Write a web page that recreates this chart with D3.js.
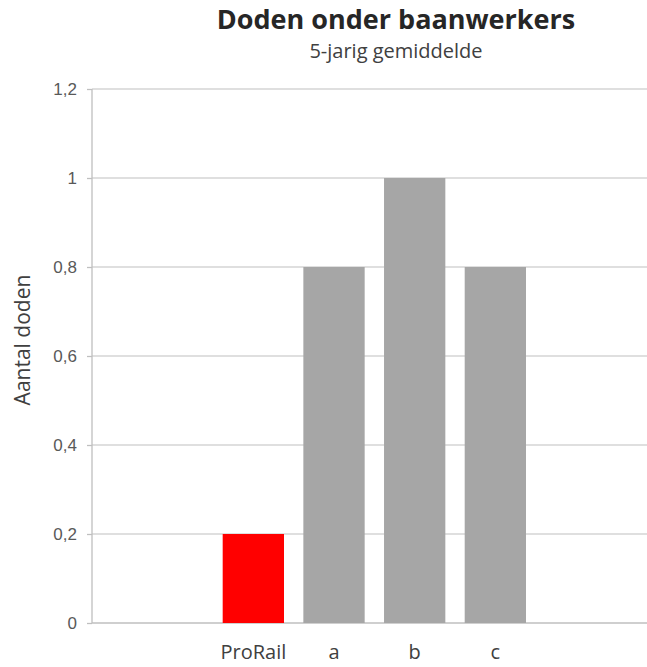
<!DOCTYPE html>
<html>
<head>
<meta charset="utf-8">
<script src="https://cdn.jsdelivr.net/npm/d3@7"></script>
<style>
  body { margin: 0; background: #fff; }
</style>
</head>
<body>
<div id="chart"></div>
<script>
const categories = ["ProRail", "a", "b", "c"];
const values = [0.2, 0.8, 1.0, 0.8];
const barColors = ["#ff0000", "#a6a6a6", "#a6a6a6", "#a6a6a6"];
const yTicks = [0, 0.2, 0.4, 0.6, 0.8, 1, 1.2];

let draw = () => {
  var width = 647,
    height = 667,
    left = 92,
    top = 89,
    bottom = 623,
    step = 80.67;

  var svg = d3
    .select("#chart")
    .append("svg")
    .attr("width", width)
    .attr("height", height);

  var Yaxis = d3.scaleLinear().range([bottom, top]).domain([0, 1.2]),
    Xaxis = d3
      .scaleBand()
      .domain(categories)
      .range([left + 1.5 * step, left + 5.5 * step])
      .paddingInner(0.24)
      .paddingOuter(0.12);

  // gridlines
  svg
    .append("g")
    .selectAll("line")
    .data(yTicks)
    .enter()
    .append("line")
    .attr("x1", left)
    .attr("x2", width)
    .attr("y1", (d) => Yaxis(d))
    .attr("y2", (d) => Yaxis(d))
    .attr("stroke", (d) => (d === 0 ? "#bfbfbf" : "#d4d4d4"))
    .attr("stroke-width", 1.3);

  // y axis
  var yAx = svg
    .append("g")
    .attr("transform", `translate(${left}, 0)`)
    .call(
      d3
        .axisLeft(Yaxis)
        .tickValues(yTicks)
        .tickSize(5)
        .tickPadding(10)
        .tickFormat((x) => String(+x.toFixed(1)).replace(".", ","))
    );
  yAx.select(".domain").attr("stroke", "#bfbfbf").attr("stroke-width", 1.3).attr("d", `M0,${top}V${bottom}`);
  yAx.selectAll(".tick line").attr("stroke", "#bfbfbf").attr("stroke-width", 1.3);
  yAx
    .selectAll(".tick text")
    .attr("fill", "#595959")
    .style("font-family", "'Liberation Sans', Arial, sans-serif")
    .style("font-size", "17px");

  // bars
  svg
    .selectAll(".bar")
    .data(categories)
    .enter()
    .append("rect")
    .attr("class", "bar")
    .attr("x", (d) => Xaxis(d))
    .attr("y", (d, i) => Yaxis(values[i]))
    .attr("width", Xaxis.bandwidth())
    .attr("height", (d, i) => Yaxis(0) - Yaxis(values[i]))
    .attr("fill", (d, i) => barColors[i]);

  // x axis labels
  var xAx = svg
    .append("g")
    .attr("transform", `translate(0, ${bottom})`)
    .call(d3.axisBottom(Xaxis).tickSize(0).tickPadding(22));
  xAx.select(".domain").remove();
  xAx
    .selectAll(".tick text")
    .attr("fill", "#404040")
    .style("font-family", "'Open Sans', sans-serif")
    .style("font-size", "20px");

  // titles
  svg
    .append("text")
    .attr("x", 396)
    .attr("y", 29)
    .attr("text-anchor", "middle")
    .attr("fill", "#262626")
    .style("font-family", "'Open Sans', sans-serif")
    .style("font-weight", "bold")
    .style("font-size", "27px")
    .text("Doden onder baanwerkers");

  svg
    .append("text")
    .attr("x", 396)
    .attr("y", 58)
    .attr("text-anchor", "middle")
    .attr("fill", "#404040")
    .style("font-family", "'Open Sans', sans-serif")
    .style("font-size", "20px")
    .text("5-jarig gemiddelde");

  svg
    .append("text")
    .attr("transform", `translate(30, 340) rotate(-90)`)
    .attr("text-anchor", "middle")
    .attr("fill", "#404040")
    .style("font-family", "'Open Sans', sans-serif")
    .style("font-size", "21px")
    .text("Aantal doden");
};

draw();
</script>
</body>
</html>
